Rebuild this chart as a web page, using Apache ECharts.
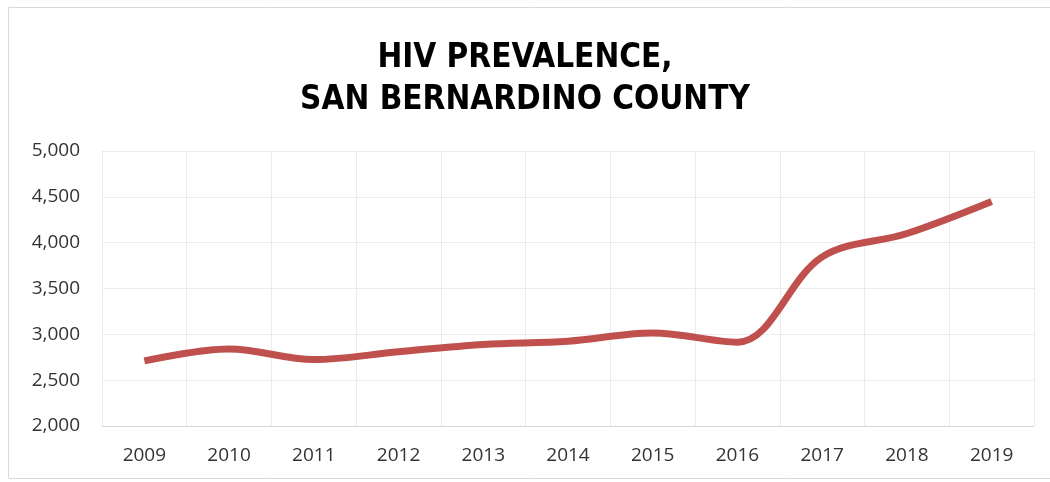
<!DOCTYPE html>
<html>
<head>
<meta charset="utf-8">
<script src="https://cdn.jsdelivr.net/npm/echarts@6/dist/echarts.min.js"></script>
<style>
  html, body { margin: 0; padding: 0; background: #fff; }
  #chart { width: 1050px; height: 482px; }
</style>
</head>
<body>
<div id="chart"></div>
<script>
// HIV prevalence by year, San Bernardino County
const years = ['2009', '2010', '2011', '2012', '2013', '2014', '2015', '2016', '2017', '2018', '2019'];
const prevalence = [2710, 2840, 2725, 2810, 2890, 2925, 3015, 2915, 3845, 4100, 4450];
const yTicks = { min: 2000, max: 5000, step: 500 };

const labelFont = '"Open Sans", "Liberation Sans", sans-serif';

const chart = echarts.init(document.getElementById('chart'));
chart.setOption({
  backgroundColor: '#ffffff',
  animation: false,
  graphic: [{
    type: 'rect',
    shape: { x: 8.5, y: 7.5, width: 1050, height: 471 },
    style: { fill: 'none', stroke: '#d9d9d9', lineWidth: 1 },
    silent: true
  }],
  title: {
    text: 'HIV PREVALENCE,\nSAN BERNARDINO COUNTY',
    left: 'center',
    top: 32,
    textStyle: {
      fontFamily: '"Liberation Sans Narrow", "DejaVu Sans Condensed", "Open Sans", sans-serif',
      fontWeight: 'bold',
      fontSize: 33,
      lineHeight: 42,
      color: '#000000'
    }
  },
  grid: { left: 102, right: 16, top: 151, bottom: 56, containLabel: false },
  xAxis: {
    type: 'category',
    data: years,
    boundaryGap: true,
    axisLine: { lineStyle: { color: '#d9d9d9', width: 1 } },
    axisTick: { show: false },
    axisLabel: {
      color: '#333333',
      fontFamily: labelFont,
      fontSize: 19,
      margin: 20
    },
    splitLine: { show: true, lineStyle: { color: '#ececec', width: 1 } }
  },
  yAxis: {
    type: 'value',
    min: yTicks.min,
    max: yTicks.max,
    interval: yTicks.step,
    axisLine: { show: false },
    axisTick: { show: false },
    axisLabel: {
      color: '#333333',
      fontFamily: labelFont,
      fontSize: 19,
      margin: 22,
      formatter: v => v.toLocaleString('en-US')
    },
    splitLine: { lineStyle: { color: '#ececec', width: 1 } }
  },
  series: [{
    type: 'line',
    data: prevalence,
    smooth: 0.35,
    symbol: 'none',
    lineStyle: { color: '#c0504d', width: 7, cap: 'butt' }
  }]
});
</script>
</body>
</html>
